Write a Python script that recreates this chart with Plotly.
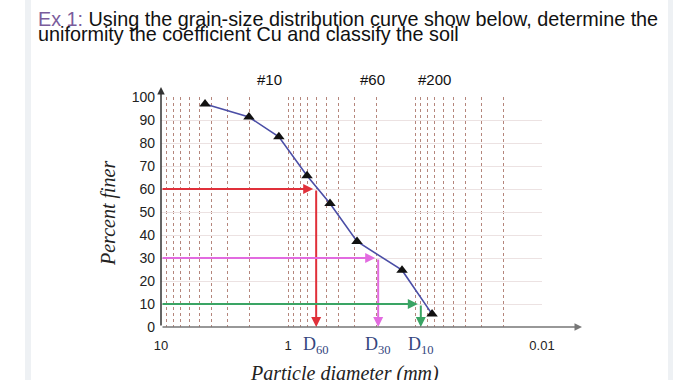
import numpy as np
import plotly.graph_objects as go

# ---- data ----
diam_mm = [4.50, 2.03, 1.18, 0.708, 0.467, 0.286, 0.1265, 0.0734]
pct_finer = [97, 91.3, 82.7, 65.8, 53.7, 37.2, 24.7, 5.6]
d_levels = [60, 30, 10]
d_values = [0.60, 0.195, 0.090]
d_labels = ["D<sub>60</sub>", "D<sub>30</sub>", "D<sub>10</sub>"]
d_colors = ["#e0303a", "#e26be0", "#3aa464"]
sieve_labels = ["#10", "#60", "#200"]
sieve_label_x = [1.41, 0.218, 0.0697]
y_ticks = [0, 10, 20, 30, 40, 50, 60, 70, 80, 90, 100]
x_tick_labels = {10: "10", 1: "1", 0.01: "0.01"}

# log grid positions
grid_x = []
for dec in [1, 0.1, 0.01]:
    for m in range(1, 10):
        grid_x.append(dec * m)
grid_x.append(10)
grid_x = sorted(set(round(v, 6) for v in grid_x))
tick_text = [x_tick_labels.get(v, "") for v in grid_x]

W, H = 700, 380
L, R, T, B = 161, 158, 97, 53
PW, PH = W - L - R, H - T - B


def px(xp):
    return (xp - L) / PW


def py(yp):
    return (H - B - yp) / PH


fig = go.Figure()
fig.add_trace(go.Scatter(
    x=diam_mm, y=pct_finer, mode="lines+markers",
    line=dict(color="#4b4ea6", width=1.6),
    marker=dict(symbol="triangle-up", size=10, color="#111111"),
    showlegend=False, hoverinfo="skip", cliponaxis=False))

annotations = []
# D lines as arrows
for lvl, dv, col, lab in zip(d_levels, d_values, d_colors, d_labels):
    annotations.append(dict(x=np.log10(dv), y=lvl, ax=1.0, ay=lvl,
                            xref="x", yref="y", axref="x", ayref="y",
                            text="", showarrow=True, arrowhead=2, arrowsize=1,
                            arrowwidth=2, arrowcolor=col, standoff=3))
    annotations.append(dict(x=np.log10(dv), y=0, ax=np.log10(dv), ay=lvl,
                            xref="x", yref="y", axref="x", ayref="y",
                            text="", showarrow=True, arrowhead=2, arrowsize=1,
                            arrowwidth=2, arrowcolor=col, standoff=0))
    annotations.append(dict(x=np.log10(dv), y=py(345), xref="x", yref="paper",
                            xanchor="center", yanchor="middle",
                            text=lab, showarrow=False,
                            font=dict(family="Liberation Serif", size=18, color="#34467e")))

for lab, sx in zip(sieve_labels, sieve_label_x):
    annotations.append(dict(x=np.log10(sx), y=py(79), xref="x", yref="paper",
                            xanchor="center", yanchor="middle",
                            text=lab, showarrow=False,
                            font=dict(family="Liberation Sans", size=15, color="#111111")))

# axes arrows
annotations.append(dict(x=px(582), y=0, xref="paper", yref="paper",
                        ax=-(582 - L), ay=0, axref="pixel", ayref="pixel",
                        text="", showarrow=True, arrowhead=2, arrowsize=1,
                        arrowwidth=1.5, arrowcolor="#777777"))
annotations.append(dict(x=0, y=py(87), xref="paper", yref="paper",
                        ax=0, ay=(H - B) - 87, axref="pixel", ayref="pixel",
                        text="", showarrow=True, arrowhead=2, arrowsize=1,
                        arrowwidth=1.5, arrowcolor="#333333"))

# axis titles
annotations.append(dict(x=px(344), y=py(373), xref="paper", yref="paper",
                        xanchor="center", yanchor="middle",
                        text="<i>Particle diameter (mm)</i>", showarrow=False,
                        font=dict(family="Liberation Serif", size=20, color="#222222")))
annotations.append(dict(x=px(108), y=py(214), xref="paper", yref="paper",
                        xanchor="center", yanchor="middle",
                        text="<i>Percent finer</i>", showarrow=False, textangle=-90,
                        font=dict(family="Liberation Serif", size=20, color="#222222")))

# title lines
annotations.append(dict(x=px(36), y=py(19), xref="paper", yref="paper",
                        xanchor="left", yanchor="middle", showarrow=False,
                        text="<span style='color:#7a5c9c'>Ex 1:</span> Using the grain-size distribution curve show below, determine the",
                        font=dict(family="Liberation Sans", size=19.8, color="#111111")))
annotations.append(dict(x=px(36), y=py(34), xref="paper", yref="paper",
                        xanchor="left", yanchor="middle", showarrow=False,
                        text="uniformity the coefficient Cu and classify the soil",
                        font=dict(family="Liberation Sans", size=19.8, color="#111111")))

shapes = [
    dict(type="rect", xref="paper", yref="paper", x0=px(25), x1=px(31),
         y0=py(H), y1=py(0), fillcolor="#eef1f4", line=dict(width=0), layer="below"),
    dict(type="rect", xref="paper", yref="paper", x0=px(668), x1=px(673),
         y0=py(H), y1=py(0), fillcolor="#eef1f4", line=dict(width=0), layer="below"),
]

fig.update_layout(
    width=W, height=H, margin=dict(l=L, r=R, t=T, b=B, autoexpand=False),
    paper_bgcolor="white", plot_bgcolor="white",
    annotations=annotations, shapes=shapes,
    xaxis=dict(type="log", range=[1, -2], tickvals=grid_x, ticktext=tick_text,
               showgrid=True, gridcolor="#b5867c", griddash="dot", gridwidth=1,
               ticks="", showline=False, zeroline=False, ticklabelstandoff=9,
               tickfont=dict(family="Liberation Sans", size=13, color="#222222")),
    yaxis=dict(range=[0, 100], tickvals=y_ticks, showgrid=True,
               gridcolor="#ece2e2", gridwidth=1, ticks="", showline=False,
               zeroline=False, ticklabelstandoff=5,
               tickfont=dict(family="Liberation Sans", size=14, color="#222222")),
)

fig.write_html("out.html", post_script="document.body.style.margin='0';",
               config={"displayModeBar": False})
